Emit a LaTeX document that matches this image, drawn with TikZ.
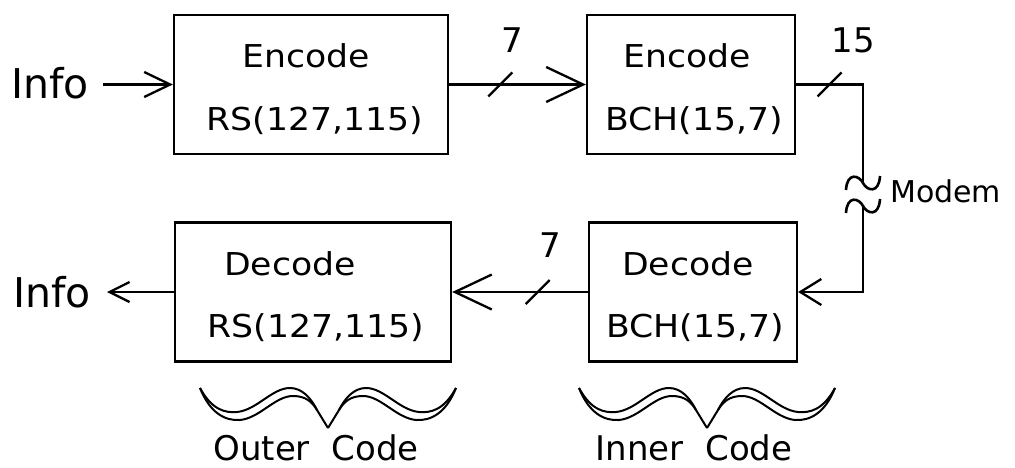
\documentclass[tikz,border=0pt]{standalone}
\usepackage{fontspec}
\setmainfont{DejaVu Sans}
\newfontfamily\widefont{DejaVu Sans}[FakeStretch=1.1]
\usetikzlibrary{arrows.meta}

\tikzset{
  wire/.style={line width=2.3pt},
  block/.style={draw, line width=2.3pt, minimum width=#1, minimum height=139pt, inner sep=0pt},
  boxtext/.style={font=\widefont\fontsize{31.5}{36}\selectfont, anchor=base, inner sep=0pt},
  bustext/.style={font=\fontsize{34}{40}\selectfont, anchor=base, inner sep=0pt},
  infotext/.style={font=\fontsize{41}{48}\selectfont, anchor=base, inner ysep=0pt},
  codetext/.style={font=\fontsize{34}{40}\selectfont, anchor=base, inner sep=0pt},
  bigtip/.style={-{Straight Barb[length=37pt,width=35pt]}},
  tip in/.style={-{Straight Barb[length=26pt,width=25pt]}},
  tip out/.style={-{Straight Barb[length=20pt,width=20pt]}},
  tip loop/.style={-{Straight Barb[length=21pt,width=26pt]}},
  % bus-width slash across a wire
  tick/.pic={\draw[wire] (-12,12) -- (12,-12);},
  % channel break drawn as a tilde
  wave/.pic={\draw[wire, line width=2.6pt] (-17,7) .. controls (-16,-11) and (-4,-8) .. (0,0)
                          .. controls (4,8) and (16,11) .. (17,-7);},
  % double-stroke brace grouping a pair of blocks
  mustache/.pic={
    \foreach \s in {1,-1}{
      \begin{scope}[xscale=\s, line width=2pt, line join=round]
        \draw (-128,0) .. controls (-118,25) and (-103,33) .. (-88,32)
              .. controls (-68,30) and (-53,8) .. (-35,8)
              .. controls (-22,8) and (-16,14) .. (-11,22) -- (0,40);
        \draw (-128,0) .. controls (-116,22) and (-103,25) .. (-91,24)
              .. controls (-71,22) and (-56,0) .. (-38,0)
              .. controls (-26,0) and (-17,10) .. (-11,22);
      \end{scope}}
  }
}

\begin{document}
\begin{tikzpicture}[x=1pt, y=-1pt]
  \useasboundingbox (0,0) rectangle (1015,467);

  % blocks
  \node[block=274pt] (encrs)  at (311,84.5) {};
  \node[block=208pt] (encbch) at (691,84.5) {};
  \node[block=276pt] (decrs)  at (313,292)  {};
  \node[block=208pt] (decbch) at (693,292)  {};

  % block captions
  \node[boxtext] (t1a) at (306,67)  {Encode};
  \node[boxtext] (t1b) at (315,130) {RS(127,115)};
  \node[boxtext] (t2a) at (687,67)  {Encode};
  \node[boxtext] (t2b) at (694,130) {BCH(15,7)};
  \node[boxtext] (t3a) at (290,275) {Decode};
  \node[boxtext] (t3b) at (316,337) {RS(127,115)};
  \node[boxtext] (t4a) at (688,275) {Decode};
  \node[boxtext] (t4b) at (695,337) {BCH(15,7)};

  % input and output
  \node[infotext, inner xsep=14pt] (infoin)  at (50,98)  {Info};
  \node[infotext, inner xsep=16pt] (infoout) at (52,307) {Info};
  \draw[wire, tip in]  (infoin.east |- encrs.west) -- (encrs.west);
  \draw[wire, tip out] (decrs.west) -- (infoout.east |- decrs.west);

  % outer to inner encoder
  \draw[wire, bigtip] (encrs.east) -- coordinate[pos=0.374] (busA) (encbch.west);
  \pic at (busA) {tick};
  \node[bustext] (wA) at (512,52) {7};

  % channel loop through the modem
  \coordinate (turnA) at (863,84.5);
  \coordinate (waveA) at (863,183);
  \coordinate (waveB) at (863,206);
  \coordinate (turnB) at (863,292);
  \draw[wire, line join=miter] (encbch.east) -- coordinate[pos=0.5] (busB) (turnA) -- (waveA);
  \pic at (busB) {tick};
  \node[bustext] (wB) at (853,52) {15};
  \pic at (waveA) {wave};
  \pic at (waveB) {wave};
  \node[font=\fontsize{30}{36}\selectfont, anchor=base west, inner sep=0pt] (modem) at (890,202) {Modem};
  \draw[wire, tip loop, line join=miter] (waveB) -- (turnB) -- (decbch.east);

  % inner to outer decoder
  \draw[wire, bigtip] (decbch.west) -- coordinate[pos=0.37] (busC) (decrs.east);
  \pic at (busC) {tick};
  \node[bustext] (wC) at (550,257) {7};

  % code groupings
  \pic at (328,388) {mustache};
  \pic at (707,388) {mustache};
  \node[codetext] (outer) at (316,460) {Outer\ \ Code};
  \node[codetext] (inner) at (694,460) {Inner\ \ Code};
\end{tikzpicture}
\end{document}
